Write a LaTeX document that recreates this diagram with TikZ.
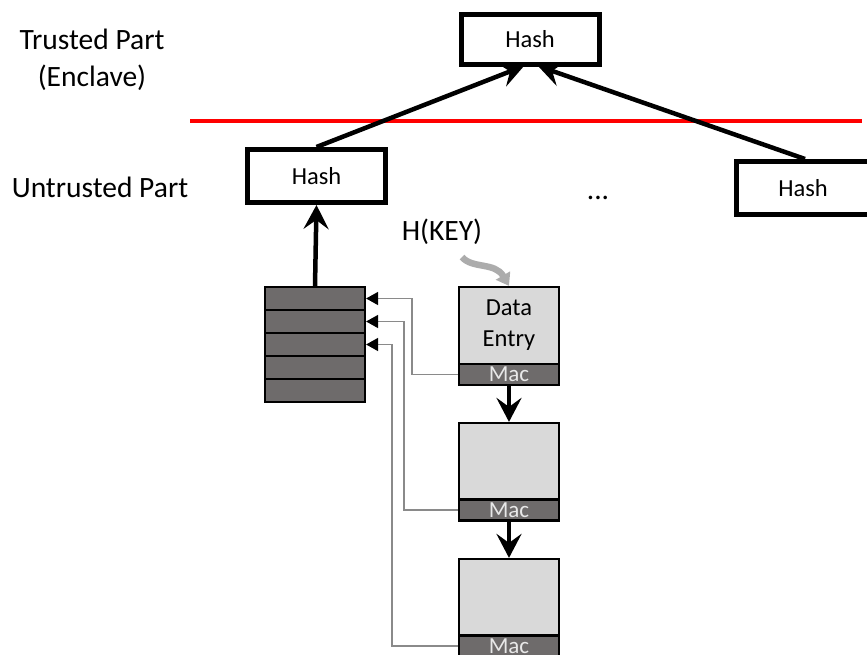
\documentclass[tikz,border=0pt]{standalone}
\usepackage{fontspec}
\setmainfont{Carlito}
\usetikzlibrary{arrows.meta,calc}
\definecolor{darkcell}{HTML}{6E6B6B}
\definecolor{lightcell}{HTML}{D9D9D9}
\definecolor{mactext}{HTML}{E8E8E8}
\definecolor{linegray}{HTML}{8A8A8A}
\begin{document}
\begin{tikzpicture}[x=1pt,y=-1pt,
  hashbox/.style={draw=black,line width=5pt,fill=white,minimum width=138pt,minimum height=53pt,inner sep=0pt,font=\fontsize{24.5}{28}\selectfont},
  label/.style={font=\fontsize{29.5}{37}\selectfont,align=center,inner sep=0pt},
  cell/.style={draw=black,line width=2.2pt,fill=darkcell,minimum width=100pt,minimum height=23pt,inner sep=0pt},
  entrybody/.style={draw=black,line width=2.2pt,fill=lightcell,minimum width=100pt,inner sep=0pt,align=center,font=\fontsize{24.5}{33}\selectfont},
  macbox/.style={draw=black,line width=2.2pt,fill=darkcell,minimum width=100pt,minimum height=21pt,inner sep=0pt,text=mactext,font=\fontsize{23}{23}\selectfont},
  thick arrow/.style={line width=4.5pt,-{Stealth[length=24pt,width=25pt,inset=9pt]}},
  thin arrow/.style={draw=linegray,line width=1.6pt,-{Triangle[length=12pt,width=13pt,fill=black,color=black]}},
]
\useasboundingbox (0,0) rectangle (867,655);

% labels
\node[label] (trusted) at (92,60) {Trusted Part\\(Enclave)};
\node[label] (untrusted) at (100,187) {Untrusted Part};

% red boundary
\coordinate (redL) at (190,121);
\coordinate (redR) at (862,121);
\draw[red,line width=4pt] (redL) -- (redR);

% hash boxes
\node[hashbox,minimum height=50pt] (top) at (530,39.5) {Hash};
\node[hashbox] (lefth) at (316.5,176) {Hash};
\node[hashbox,minimum width=134pt] (righth) at (803,188) {Hash};

\draw[thick arrow] (lefth.north) -- ($(top.south)+(-6,-1)$);
\draw[thick arrow] ($(righth.north)+(2,0)$) -- ($(top.south)+(8,-1)$);

\node[label] (dots) at (598,198) {...};

% H(KEY)
\node[label] (hkey) at (442,232) {H(KEY)};

% stack
\node[cell] (s1) at (315,298.5) {};
\node[cell] (s2) at (315,321.5) {};
\node[cell] (s3) at (315,344.5) {};
\node[cell] (s4) at (315,367.5) {};
\node[cell] (s5) at (315,390.5) {};
\draw[thick arrow] (s1.north) -- (lefth.south);

% entries
\node[entrybody,minimum height=77pt] (e1) at (509,325.5) {\raisebox{-6pt}{Data}\\\raisebox{-4pt}{Entry}};
\node[macbox] (m1) at (509,374.5) {Mac};
\node[entrybody,minimum height=76pt] (e2) at (509,461) {};
\node[macbox] (m2) at (509,510) {Mac};
\node[entrybody,minimum height=77pt] (e3) at (509,597.5) {};
\node[macbox] (m3) at (509,646) {Mac};

\draw[gray!65,line width=6.5pt,-{Triangle[length=12pt,width=16pt]}] ($(hkey.south)+(20,12)$) .. controls ($(hkey.south)+(30,24)$) and ($(e1.north)+(-14,-24)$) .. (e1.north);

\draw[thick arrow] (m1.south) -- (e2.north);
\draw[thick arrow] (m2.south) -- (e3.north);

% MAC links
\draw[thin arrow] (m1.west) -- ++(-46,0) |- (s1.east);
\draw[thin arrow] (m2.west) -- ++(-54,0) |- (s2.east);
\draw[thin arrow] (m3.west) -- ++(-66,0) |- (s3.east);
\end{tikzpicture}
\end{document}
